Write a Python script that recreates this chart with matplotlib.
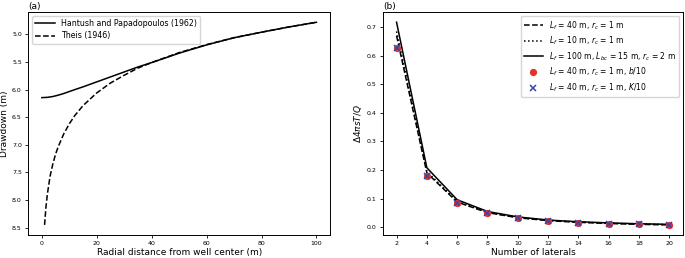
import numpy as np
import matplotlib
matplotlib.use('Agg')
import matplotlib.pyplot as plt

# panel (a): drawdown vs radial distance
r_hantush = [0, 2, 4, 6, 8, 10, 12, 15, 20, 25, 30, 35, 40, 50, 60, 70, 80, 90, 100]
s_hantush = [6.145, 6.14, 6.125, 6.10, 6.07, 6.035, 6.00, 5.95, 5.86, 5.77, 5.68, 5.59,
             5.51, 5.34, 5.19, 5.06, 4.96, 4.865, 4.78]
r_theis = [1, 1.5, 2, 3, 4, 5, 6, 8, 10, 12, 15, 20, 25, 30, 35, 40, 50, 60, 70, 80, 90, 100]
s_theis = [8.45, 8.13, 7.90, 7.57, 7.35, 7.17, 7.03, 6.80, 6.62, 6.47, 6.29, 6.06, 5.88,
           5.74, 5.61, 5.51, 5.33, 5.185, 5.06, 4.96, 4.865, 4.78]

# panel (b): normalised drawdown difference vs number of laterals
laterals = [2, 4, 6, 8, 10, 12, 14, 16, 18, 20]
lf40 = [0.670, 0.190, 0.088, 0.051, 0.033, 0.023, 0.017, 0.013, 0.010, 0.008]
lf10 = [0.685, 0.195, 0.090, 0.052, 0.034, 0.024, 0.018, 0.014, 0.011, 0.009]
lf100 = [0.717, 0.208, 0.096, 0.055, 0.036, 0.025, 0.019, 0.015, 0.012, 0.010]
b10 = [0.628, 0.180, 0.085, 0.049, 0.032, 0.022, 0.016, 0.012, 0.010, 0.008]
k10 = [0.628, 0.180, 0.085, 0.049, 0.032, 0.022, 0.016, 0.012, 0.010, 0.008]

fig = plt.figure(figsize=(6.85, 2.58), dpi=100)
ax1 = fig.add_axes([0.041, 0.089, 0.441, 0.864])
ax2 = fig.add_axes([0.559, 0.089, 0.438, 0.864])

ax1.plot(r_hantush, s_hantush, 'k-', lw=1.1, label='Hantush and Papadopoulos (1962)')
ax1.plot(r_theis, s_theis, 'k--', lw=1.1, label='Theis (1946)')
ax1.invert_yaxis()
ax1.set_xlabel('Radial distance from well center (m)', fontsize=6.5, labelpad=1)
ax1.set_ylabel('Drawdown (m)', fontsize=6.5, labelpad=2)
ax1.legend(loc='upper left', fontsize=5.7, handlelength=2.5, borderpad=0.4, labelspacing=0.4)
ax1.set_title('(a)', loc='left', fontsize=6.5, pad=2, x=0.0)

ax2.plot(laterals, lf40, 'k--', lw=1.1, label=r'$L_f$ = 40 m, $r_c$ = 1 m')
ax2.plot(laterals, lf10, 'k:', lw=1.1, label=r'$L_f$ = 10 m, $r_c$ = 1 m')
ax2.plot(laterals, lf100, 'k-', lw=1.1, label=r'$L_f$ = 100 m, $L_{bc}$ = 15 m, $r_c$ = 2 m')
ax2.plot(laterals, b10, 'o', color='#e8302a', ms=4.2, ls='none', label=r'$L_f$ = 40 m, $r_c$ = 1 m, $b$/10')
ax2.plot(laterals, k10, 'x', color='#3545a8', ms=4.5, mew=1.1, ls='none',
         label=r'$L_f$ = 40 m, $r_c$ = 1 m, $K$/10')
ax2.set_xticks(laterals)
ax2.set_xlabel('Number of laterals', fontsize=6.5, labelpad=1)
ax2.set_ylabel(r'$\Delta 4\pi sT/Q$', fontsize=6.5, labelpad=2)
ax2.legend(loc='upper right', fontsize=5.5, handlelength=2.5, borderpad=0.4, labelspacing=0.4)
ax2.set_title('(b)', loc='left', fontsize=6.5, pad=2, x=0.0)

for ax in (ax1, ax2):
    ax.tick_params(labelsize=4.5, length=2.5, width=0.6, pad=2)
    for sp in ax.spines.values():
        sp.set_linewidth(0.7)

fig.savefig('out.png', dpi=100)
